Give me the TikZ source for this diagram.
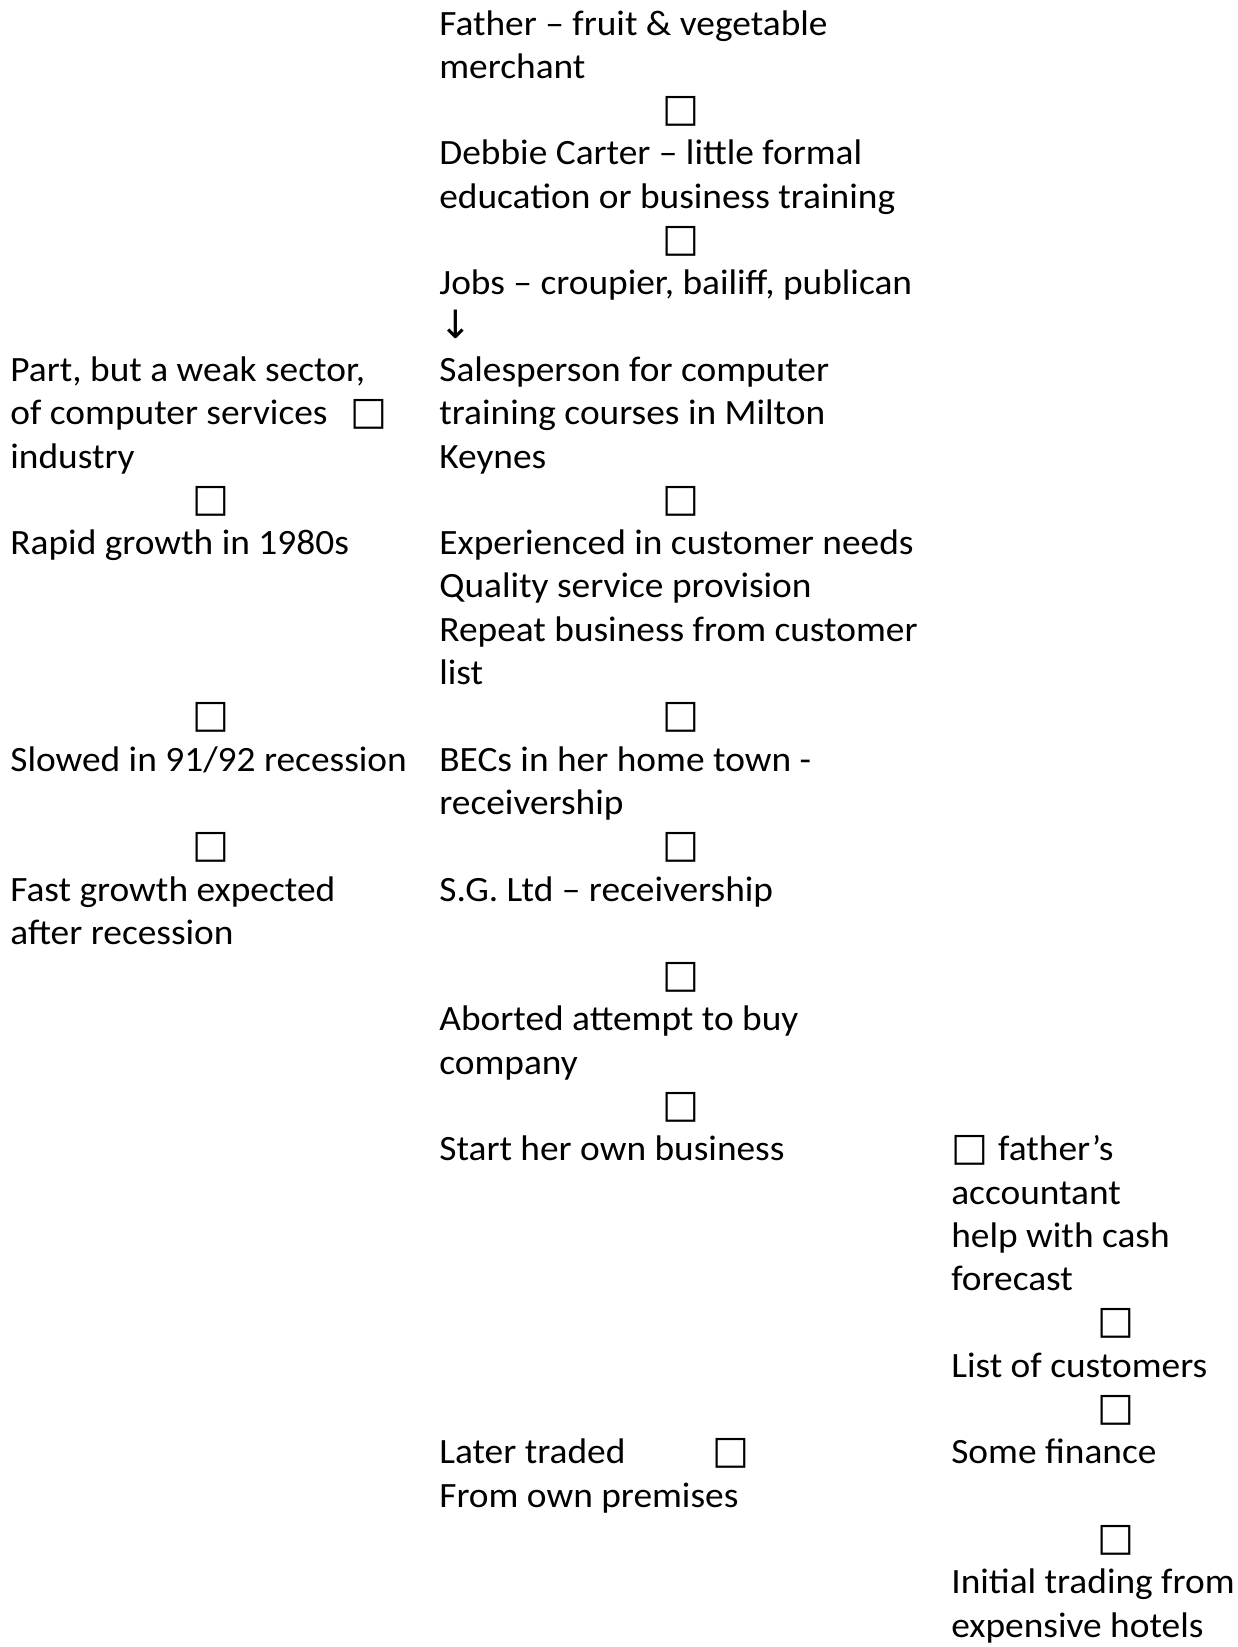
\documentclass[tikz,border=0pt]{standalone}
\usepackage{fontspec}
\setmainfont[FakeStretch=1.05]{Carlito}
\newfontfamily\symfont{DejaVu Sans}
\tikzset{
x=0.5pt, % one unit across is one pixel of the page
y=-21.65pt, % one unit down is one line of text
every node/.style={inner sep=0pt, anchor=base west, align=left}, % text hangs on the baseline of its last line
txt/.style={font=\fontsize{17.8}{21.65}\selectfont}, % the running text
sq/.style={anchor=base, font=\symfont\fontsize{19.5}{21.65}\selectfont}, % the little squares
}

\begin{document}
\begin{tikzpicture}[every node/.append style={txt}]
  \useasboundingbox (0,-0.81) rectangle (1238,37.23);
  % middle column
  \node (father) at (439,1) {Father – fruit \& vegetable\\merchant};
  \node[sq] (sq1) at (681,2) {□};
  \node (debbie) at (439,4) {Debbie Carter – little formal\\education or business training};
  \node[sq] (sq2) at (681,5) {□};
  \node (jobs) at (439,6) {Jobs – croupier, bailiff, publican};
  \node[sq, anchor=base west] (down) at (439,7) {↓};
  \node (sales) at (439,10) {Salesperson for computer\\training courses in Milton\\Keynes};
  \node[sq] (sq3) at (681,11) {□};
  \node (exper) at (439,15) {Experienced in customer needs\\Quality service provision\\Repeat business from customer\\list};
  \node[sq] (sq4) at (681,16) {□};
  \node (becs) at (439,18) {BECs in her home town -\\receivership};
  \node[sq] (sq5) at (681,19) {□};
  \node (sgltd) at (439,20) {S.G. Ltd – receivership};
  \node[sq] (sq6) at (681,22) {□};
  \node (abort) at (439,24) {Aborted attempt to buy\\company};
  \node[sq] (sq7) at (681,25) {□};
  \node (start) at (439,26) {Start her own business};
  \node (later) at (439,34) {Later traded\\From own premises};
  \node[sq] (sq8) at (731,33) {□};
  % left column
  \node (part) at (10,10) {Part, but a weak sector,\\of computer services\\industry};
  \node[sq] (sq9) at (369,9) {□};
  \node[sq] (sq10) at (211,11) {□};
  \node (rapid) at (10,12) {Rapid growth in 1980s};
  \node[sq] (sq11) at (211,16) {□};
  \node (slowed) at (10,17) {Slowed in 91/92 recession};
  \node[sq] (sq12) at (211,19) {□};
  \node (fast) at (10,21) {Fast growth expected\\after recession};
  % right column
  \node (acct) at (951,29) {{\symfont\fontsize{19.5}{21.65}\selectfont □}\hspace{5pt}father’s\\accountant\\help with cash\\forecast};
  \node[sq] (sq13) at (1116,30) {□};
  \node (list) at (951,31) {List of customers};
  \node[sq] (sq14) at (1116,32) {□};
  \node (fin) at (951,33) {Some finance};
  \node[sq] (sq15) at (1116,35) {□};
  \node (hotels) at (951,37) {Initial trading from\\expensive hotels};
\end{tikzpicture}
\end{document}
